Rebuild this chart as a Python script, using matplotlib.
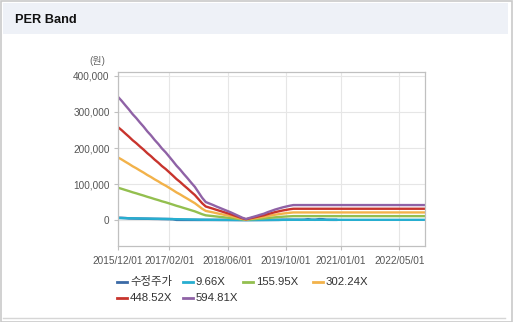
import pandas as pd
import numpy as np
import matplotlib
matplotlib.use("Agg")
import matplotlib.pyplot as plt
import matplotlib.dates as mdates
from matplotlib.lines import Line2D
from matplotlib.patches import Rectangle
from matplotlib.ticker import FuncFormatter

plt.rcParams['font.family'] = ['Liberation Sans', 'Noto Sans CJK KR', 'DejaVu Sans']

# %% data
# monthly EPS (원) behind the bands, 2015/12 .. 2019/12, then flat to 2022/12
band_dates = pd.date_range('2015-12-01', '2019-12-01', freq='MS').append(pd.DatetimeIndex(['2022-12-01']))
eps = [575, 556, 535, 516, 494, 476, 455, 436, 414, 395, 374, 355, 334,
       316, 295, 276, 254, 236, 215, 196, 175, 155, 130, 104, 84,
       77, 70, 63, 56, 49, 42, 35, 27, 19, 11, 5,
       10, 15, 20, 25, 30, 37, 43, 49, 54, 59, 63, 67, 70,
       70]
multiples = [9.66, 155.95, 302.24, 448.52, 594.81]
band_labels = ['9.66X', '155.95X', '302.24X', '448.52X', '594.81X']

# adjusted close (수정주가), monthly 2015/12 .. 2020/12
price_dates = pd.date_range('2015-12-01', '2020-12-01', freq='MS')
price = [6500, 6200, 5600, 4600, 4400, 4200, 4000, 3800, 3700, 3500, 3300, 3200, 3000,
         2900, 2700, 2500, 600, 550, 500, 500, 450, 450, 400, 400, 400,
         380, 350, 350, 300, 300, 300, 250, 200, 150, 100, 50,
         100, 150, 200, 250, 300, 350, 400, 450, 500, 900, 900, 1000, 900,
         900, 800, 900, 2400, 900, 800, 2500, 2300, 800, 700, 650, 650]

xtick_labels = ['2015/12/01', '2017/02/01', '2018/06/01', '2019/10/01', '2021/01/01', '2022/05/01']
yticks = [0, 100000, 200000, 300000, 400000]

colors = {'수정주가': '#3b6aa6', '9.66X': '#27aed0', '155.95X': '#93bf4f',
          '302.24X': '#f2b24a', '448.52X': '#c8342d', '594.81X': '#8f62a6'}

# %% figure
W, H = 513, 322
fig = plt.figure(figsize=(W / 100, H / 100), dpi=100)
fig.patch.set_facecolor('white')

# frame + header strip
fig.add_artist(Rectangle((0.5 / W, 0.5 / H), (W - 1.5) / W, (H - 1.5) / H, transform=fig.transFigure,
                         facecolor='none', edgecolor='#c9c9c9', lw=1.2))
fig.add_artist(Rectangle((3 / W, 1 - 34 / H), 505 / W, 31 / H, transform=fig.transFigure,
                         facecolor='#eef1f7', edgecolor='none'))
fig.add_artist(Line2D([3 / W, 505 / W], [1 - 318 / H] * 2, transform=fig.transFigure, color='#d6d6d6', lw=1))
fig.text(15 / W, 1 - 20 / H, 'PER Band', fontsize=9.2, fontweight='bold', va='center', ha='left', color='#111111')

ax = fig.add_axes([118 / W, 1 - 246 / H, 307 / W, 174 / H])
ax.set_facecolor('white')

ax.plot(price_dates, price, color=colors['수정주가'], lw=1.8, solid_capstyle='butt')
for mult, lab in zip(multiples, band_labels):
    ax.plot(band_dates, np.array(eps) * mult, color=colors[lab], lw=1.7)

ax.set_xlim(band_dates[0], band_dates[-1])
ax.set_ylim(-72000, 411000)
ax.set_xticks([pd.Timestamp(t.replace('/', '-')) for t in xtick_labels])
ax.set_xticklabels(xtick_labels)
ax.set_yticks(yticks)
ax.yaxis.set_major_formatter(FuncFormatter(lambda v, p: f'{int(v):,}'))

ax.grid(True, color='#e6e6e6', lw=0.8)
ax.set_axisbelow(True)
for s in ax.spines.values():
    s.set_color('#c0c0c0')
    s.set_linewidth(0.9)
ax.tick_params(axis='both', colors='#c0c0c0', labelcolor='#555555', labelsize=7.2, length=3, width=0.8)
ax.tick_params(axis='x', pad=4)
ax.tick_params(axis='y', pad=3)

fig.text(97 / W, 1 - 61 / H, '(원)', fontsize=7.2, color='#666666', ha='center', va='center')

# legend
legend_items = [('수정주가', 117, 282), ('9.66X', 183, 282), ('155.95X', 243, 282), ('302.24X', 313, 282),
                ('448.52X', 117, 298), ('594.81X', 183, 298)]
for lab, lx, ly in legend_items:
    fig.add_artist(Line2D([lx / W, (lx + 10) / W], [1 - ly / H] * 2, transform=fig.transFigure,
                          color=colors[lab], lw=2))
    fig.text((lx + 13) / W, 1 - ly / H, lab, fontsize=8.2, color='#333333', ha='left', va='center')

fig.savefig('out.png', dpi=100)
